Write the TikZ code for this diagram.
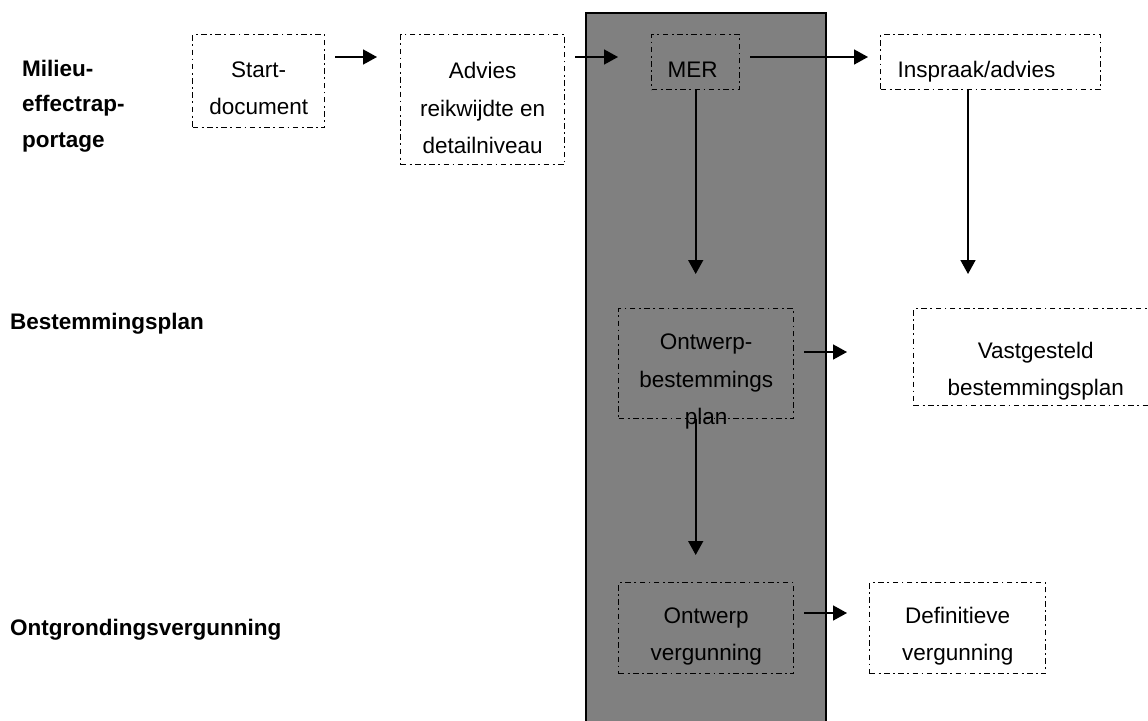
\documentclass[tikz,border=0pt]{standalone}
\usepackage{fontspec}
\setmainfont{Liberation Sans}
\usetikzlibrary{arrows.meta,calc}
\definecolor{panelgray}{RGB}{128,128,128}
\begin{document}
\begin{tikzpicture}[x=1pt,y=-1pt,
  every node/.style={font=\fontsize{22.5}{37.5}\selectfont},
  stepbox/.style={draw, line width=1.4pt, dash pattern=on 5.5pt off 3.5pt on 1.8pt off 3.5pt,
    anchor=north west, inner sep=0pt, align=center},
  leftbox/.style={stepbox, align=left},
  arr/.style={-{Triangle[length=14pt,width=15pt]}, line width=1.6pt},
  lbl/.style={anchor=base west, inner sep=0pt, align=left,
    font=\bfseries\fontsize{22.5}{35.5}\selectfont}]
\useasboundingbox (0,0) rectangle (1148,720);
% grey panel
\draw[line width=1.6pt, fill=panelgray] (586,13) rectangle (826,735);
% row labels
\node[lbl] (lmer) at (22,147) {Milieu-\\effectrap-\\portage};
\node[lbl] (lbp) at (10,329) {Bestemmingsplan};
\node[lbl] (lov) at (10,635) {Ontgrondingsvergunning};
% boxes
\node[stepbox, minimum width=132pt, text height=80pt, text depth=13pt] (start) at (192,34) {Start-\\document};
\node[stepbox, minimum width=164pt, text height=119pt, text depth=11pt] (advies) at (400,34) {Advies\\reikwijdte en\\detailniveau};
\node[leftbox, inner xsep=16pt, text width=56pt, text height=43pt, text depth=12pt] (mer) at (651,34) {MER};
\node[leftbox, inner xsep=17pt, text width=186pt, text height=43pt, text depth=12pt] (insp) at (880,34) {Inspraak/advies};
\node[stepbox, minimum width=175pt, text height=108pt, text depth=2pt] (obp) at (618,308) {Ontwerp-\\bestemmings\\[-8pt]\raisebox{-8pt}[0pt][0pt]{plan}};
\node[stepbox, minimum width=244pt, text height=87pt, text depth=10pt] (vast) at (913,308) {Vastgesteld\\bestemmingsplan};
\node[stepbox, minimum width=175pt, text height=78pt, text depth=13pt] (ov) at (618,582) {Ontwerp\\vergunning};
\node[stepbox, minimum width=176pt, text height=78pt, text depth=13pt] (def) at (869,582) {Definitieve\\vergunning};
% connectors
\draw[arr] ($(start.north east)+(10,23)$) -- ($(advies.north west)+(-23,23)$);
\draw[arr] ($(advies.north east)+(10,23)$) -- ($(mer.north west)+(-33,23)$);
\draw[arr] ($(mer.north east)+(10,23)$) -- ($(insp.north west)+(-12,23)$);
\draw[arr, shorten >=34pt] (mer.south) -- (mer.south |- obp.north);
\coordinate (ia) at ($(insp.south west)+(88,0)$);
\draw[arr, shorten >=34pt] (ia) -- (ia |- vast.north);
\draw[arr] ($(obp.north east)+(10,44)$) -- ($(vast.north west)+(-66,44)$);
\draw[arr, shorten >=27pt] (mer.south |- obp.south) -- (mer.south |- ov.north);
\draw[arr] ($(ov.north east)+(10,31)$) -- ($(def.north west)+(-22,31)$);
\end{tikzpicture}
\end{document}
